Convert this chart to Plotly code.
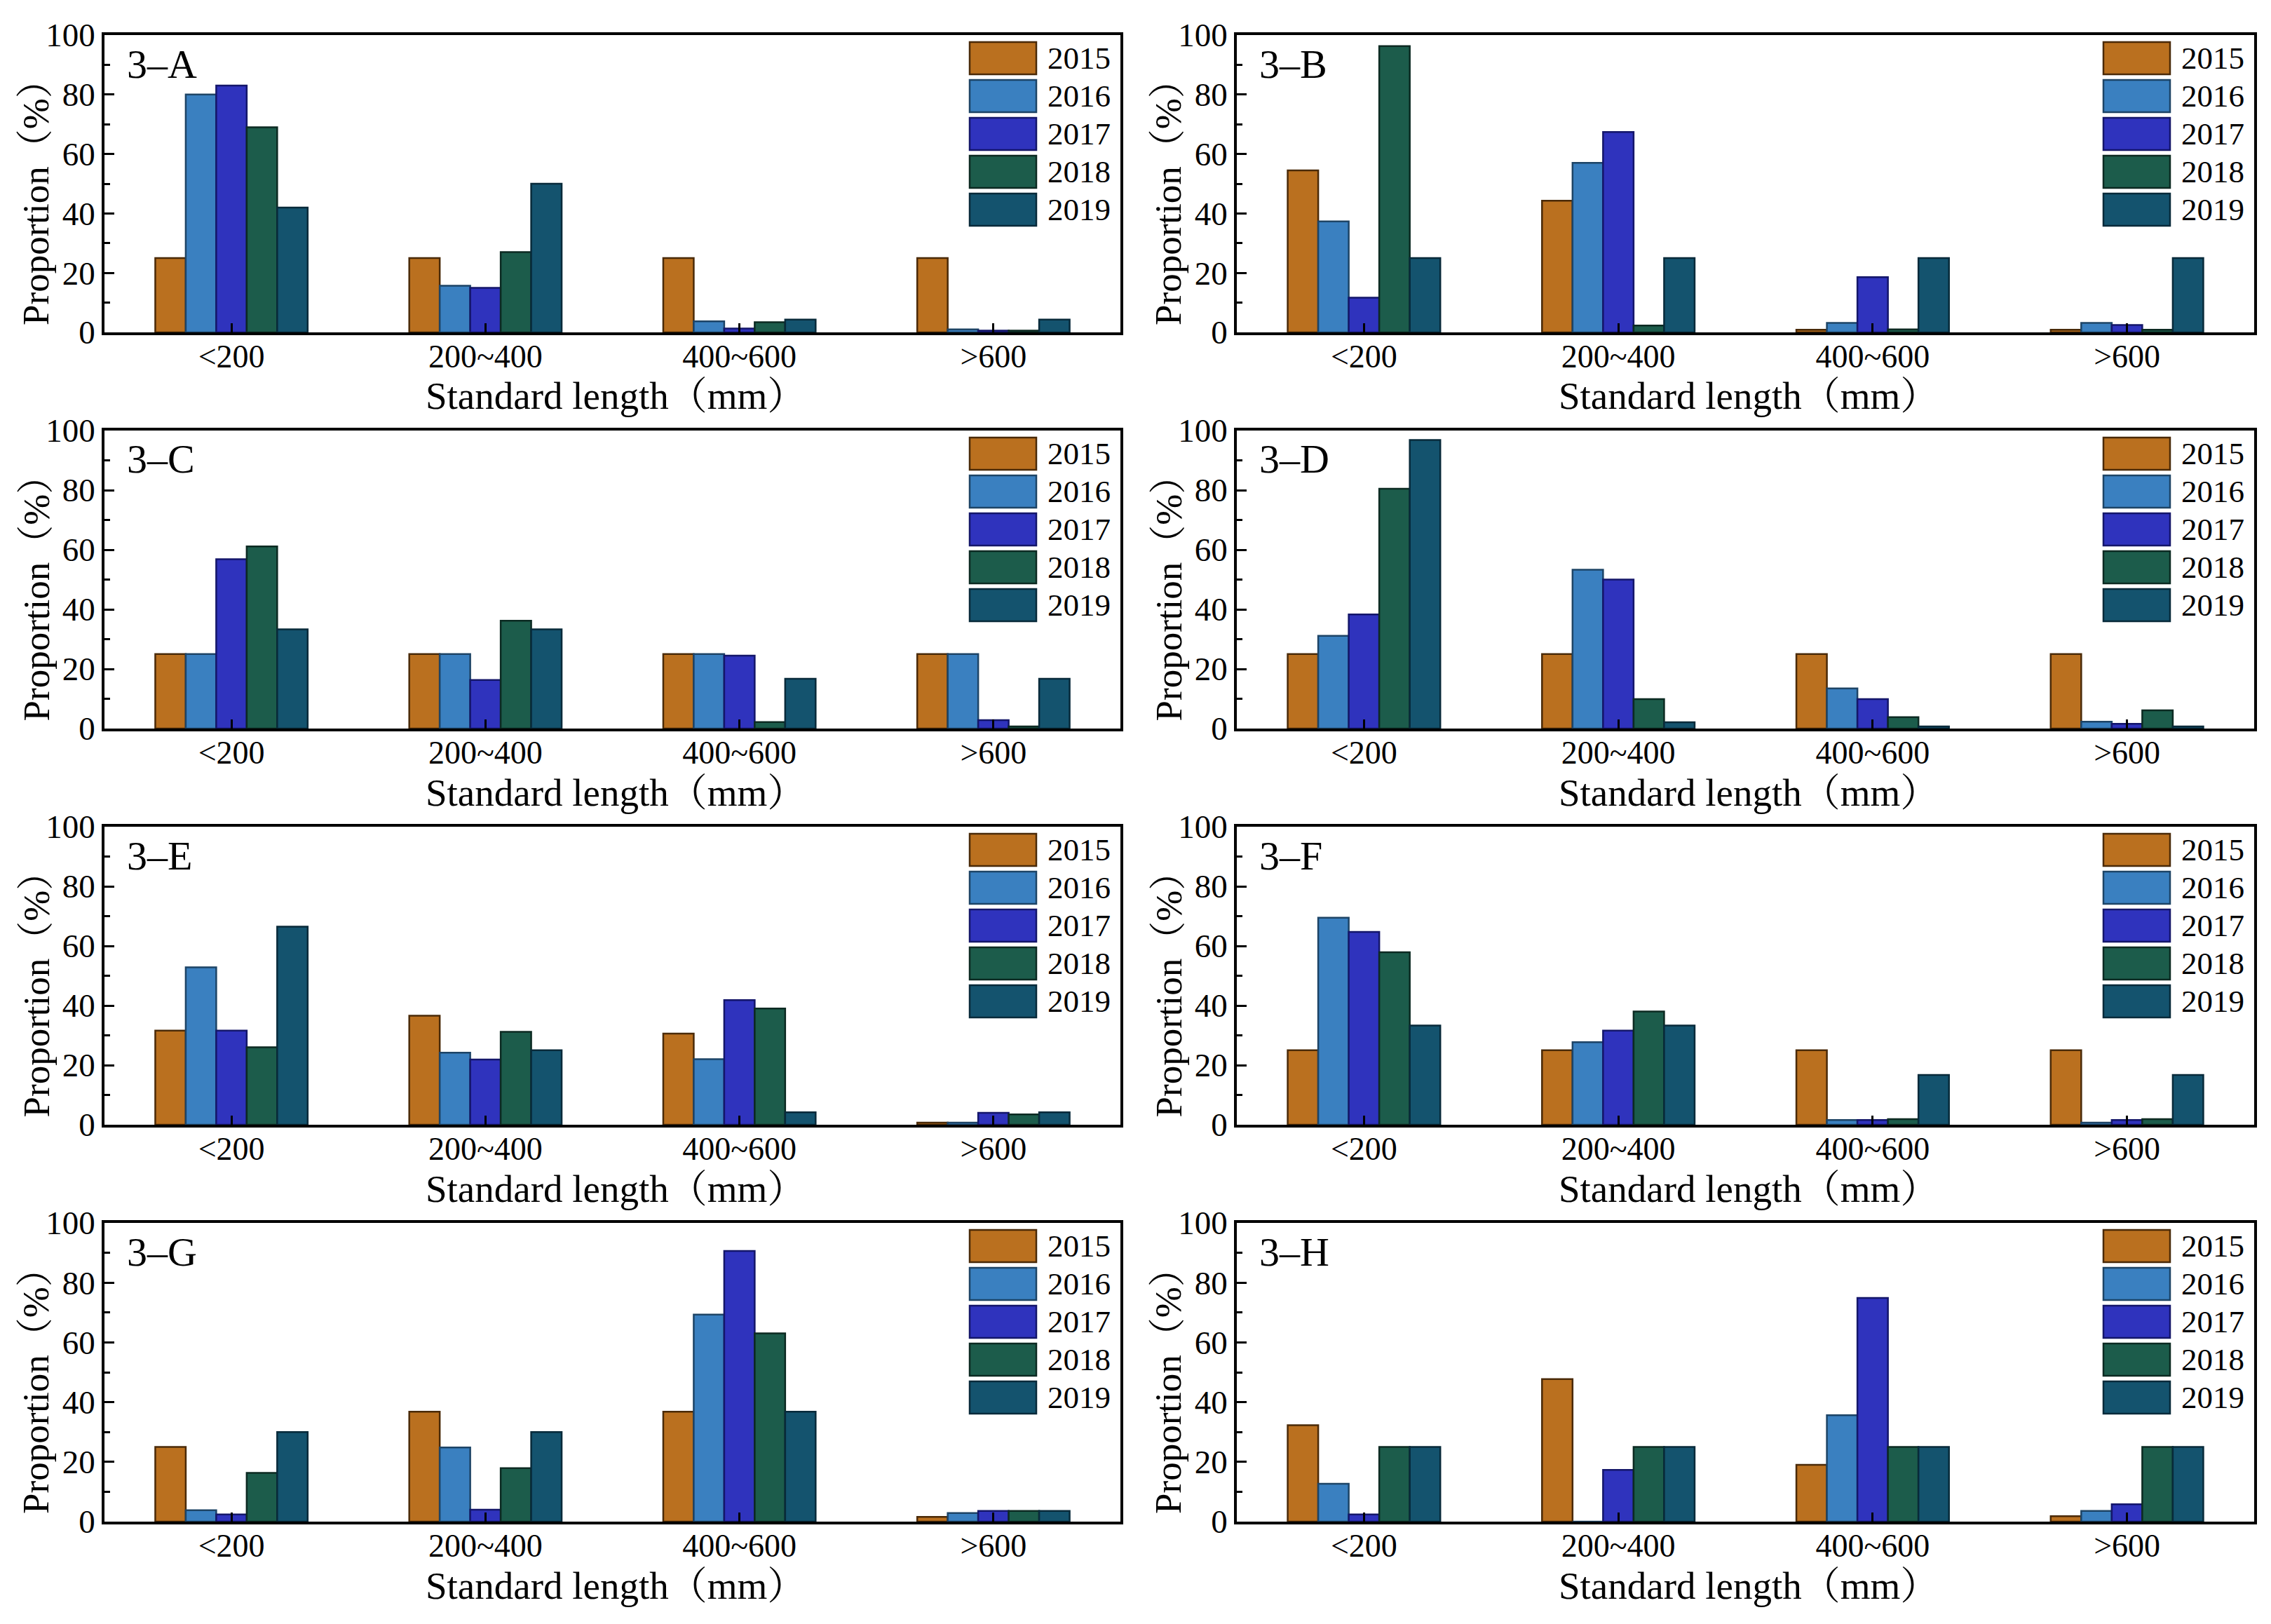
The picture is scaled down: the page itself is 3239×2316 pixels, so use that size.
import plotly.graph_objects as go

# ---------------- data ----------------
categories = ["<200", "200~400", "400~600", ">600"]
years = ["2015", "2016", "2017", "2018", "2019"]
panel_labels = ["3–A", "3–B", "3–C", "3–D", "3–E", "3–F", "3–G", "3–H"]

# each panel: one row per year (2015..2019), one column per length class
panel_A = [
    [25.0, 25.0, 25.0, 25.0],
    [80.0, 15.7, 3.7, 1.0],
    [83.0, 15.0, 1.3, 0.6],
    [69.0, 27.0, 3.4, 0.6],
    [42.0, 50.0, 4.3, 4.3],
]
panel_B = [
    [54.5, 44.3, 0.9, 0.9],
    [37.3, 57.0, 3.2, 3.2],
    [11.7, 67.4, 18.6, 2.5],
    [96.3, 2.3, 1.0, 0.9],
    [25.0, 25.0, 25.0, 25.0],
]
panel_C = [
    [25.0, 25.0, 25.0, 25.0],
    [25.0, 25.0, 25.0, 25.0],
    [56.8, 16.3, 24.5, 2.8],
    [61.1, 36.2, 2.2, 0.7],
    [33.3, 33.3, 16.7, 16.7],
]
panel_D = [
    [25.0, 25.0, 25.0, 25.0],
    [31.1, 53.3, 13.5, 2.3],
    [38.3, 50.0, 9.9, 1.6],
    [80.5, 9.9, 3.8, 6.1],
    [96.8, 2.1, 0.7, 0.7],
]
panel_E = [
    [31.6, 36.6, 30.6, 0.7],
    [52.8, 24.2, 22.0, 0.7],
    [31.6, 21.9, 41.8, 4.0],
    [26.0, 31.2, 39.0, 3.5],
    [66.5, 25.0, 4.2, 4.2],
]
panel_F = [
    [25.0, 25.0, 25.0, 25.0],
    [69.5, 27.7, 1.6, 0.7],
    [64.7, 31.6, 1.6, 1.6],
    [57.9, 38.0, 1.9, 1.9],
    [33.3, 33.3, 16.7, 16.7],
]
panel_G = [
    [25.0, 36.8, 36.8, 1.6],
    [3.8, 24.8, 69.3, 2.9],
    [2.4, 4.0, 90.6, 3.6],
    [16.3, 17.9, 63.0, 3.6],
    [30.0, 30.0, 36.8, 3.6],
]
panel_H = [
    [32.3, 47.7, 19.0, 1.8],
    [12.7, 0.0, 35.6, 3.6],
    [2.4, 17.3, 74.9, 5.8],
    [25.0, 25.0, 25.0, 25.0],
    [25.0, 25.0, 25.0, 25.0],
]
panels = [panel_A, panel_B, panel_C, panel_D, panel_E, panel_F, panel_G, panel_H]

y_ticks = [0, 20, 40, 60, 80, 100]
x_title = "Standard length（mm）"
y_title = "Proportion（%）"

# ---------------- style ----------------
colors = ["#BA701F", "#3A80C0", "#2F33BD", "#1C5C4B", "#14536E"]
edges = ["#4a2a08", "#1d4466", "#14166a", "#0c2a22", "#082a3a"]
FONT = "Liberation Serif, Times New Roman, Noto Serif CJK SC, Noto Sans CJK SC, serif"

# page body has an 8px margin; the figure is sized to fit inside the window
OFF = 8
W, H = 3239 - 2 * OFF, 2316 - 2 * OFF
col_x = [(149 - OFF, 1598 - OFF), (1764 - OFF, 3215 - OFF)]
row_y = [(50 - OFF, 474 - OFF), (614 - OFF, 1039 - OFF),
         (1179 - OFF, 1604 - OFF), (1744 - OFF, 2170 - OFF)]

fig = go.Figure()
layout = dict(
    template="none",
    width=W, height=H, autosize=False, margin=dict(l=0, r=0, t=0, b=0, pad=0),
    paper_bgcolor="white", plot_bgcolor="white",
    barmode="group", bargap=0.4, bargroupgap=0.0,
    showlegend=False, font=dict(family=FONT, color="black"),
)
annotations = []
shapes = []

for i, data in enumerate(panels):
    n = i + 1
    r, c = divmod(i, 2)
    x0, x1 = col_x[c]
    yt, yb = row_y[r]
    pw, ph = x1 - x0, yb - yt
    xa = "x" if n == 1 else f"x{n}"
    ya = "y" if n == 1 else f"y{n}"
    for j, yr in enumerate(years):
        fig.add_trace(go.Bar(
            x=categories, y=data[j], name=yr, xaxis=xa, yaxis=ya,
            marker=dict(color=colors[j], line=dict(color=edges[j], width=2.5)),
        ))
    layout[f"xaxis{'' if n == 1 else n}"] = dict(
        domain=[x0 / W, x1 / W], anchor=ya, type="category", automargin=False,
        range=[-0.5, 3.5], showline=True, mirror=True, linecolor="black", linewidth=3.5,
        ticks="inside", ticklen=13, tickwidth=3, tickcolor="black",
        ticklabelstandoff=-9,
        tickfont=dict(size=46, family=FONT, color="black"),
        showgrid=False, zeroline=False, fixedrange=True,
    )
    layout[f"yaxis{'' if n == 1 else n}"] = dict(
        domain=[1 - yb / H, 1 - yt / H], anchor=xa, automargin=False,
        range=[0, 100], tickvals=y_ticks, showline=True, mirror=True,
        linecolor="black", linewidth=3.5,
        ticks="inside", ticklen=14, tickwidth=3, tickcolor="black",
        minor=dict(dtick=10, ticks="inside", ticklen=8, tickwidth=2.5, tickcolor="black"),
        tickfont=dict(size=47, family=FONT, color="black"),
        showgrid=False, zeroline=False, fixedrange=True,
    )
    xd, yd = f"{xa} domain", f"{ya} domain"
    # panel label
    annotations.append(dict(
        text=panel_labels[i], xref=xd, yref=yd, x=30 / pw, y=1 - 41 / ph,
        xanchor="left", yanchor="middle", showarrow=False,
        font=dict(size=58, family=FONT, color="black"),
    ))
    # axis titles
    annotations.append(dict(
        text=x_title, xref=xd, yref=yd, x=0.503, y=-91 / ph,
        xanchor="center", yanchor="middle", showarrow=False,
        font=dict(size=55, family=FONT, color="black"),
    ))
    annotations.append(dict(
        text=y_title, xref=xd, yref=yd, x=-98 / pw, y=0.5 - 14 / ph,
        xanchor="center", yanchor="middle", textangle=-90, showarrow=False,
        font=dict(size=53, family=FONT, color="black"),
    ))
    # legend (boxes + labels) inside upper right
    bx1 = 1 - 120 / pw
    bx0 = bx1 - 95 / pw
    for j, yr in enumerate(years):
        top = 10 + 54 * j
        bot = top + 46
        shapes.append(dict(
            type="rect", xref=xd, yref=yd, x0=bx0, x1=bx1,
            y0=1 - bot / ph, y1=1 - top / ph,
            fillcolor=colors[j], line=dict(color=edges[j], width=2.5),
        ))
        annotations.append(dict(
            text=yr, xref=xd, yref=yd, x=bx1 + 14 / pw, y=1 - (top + 23) / ph,
            xanchor="left", yanchor="middle", showarrow=False,
            font=dict(size=45, family=FONT, color="black"),
        ))

layout["annotations"] = annotations
layout["shapes"] = shapes
fig.update_layout(**layout)
fig.write_html("out.html")
